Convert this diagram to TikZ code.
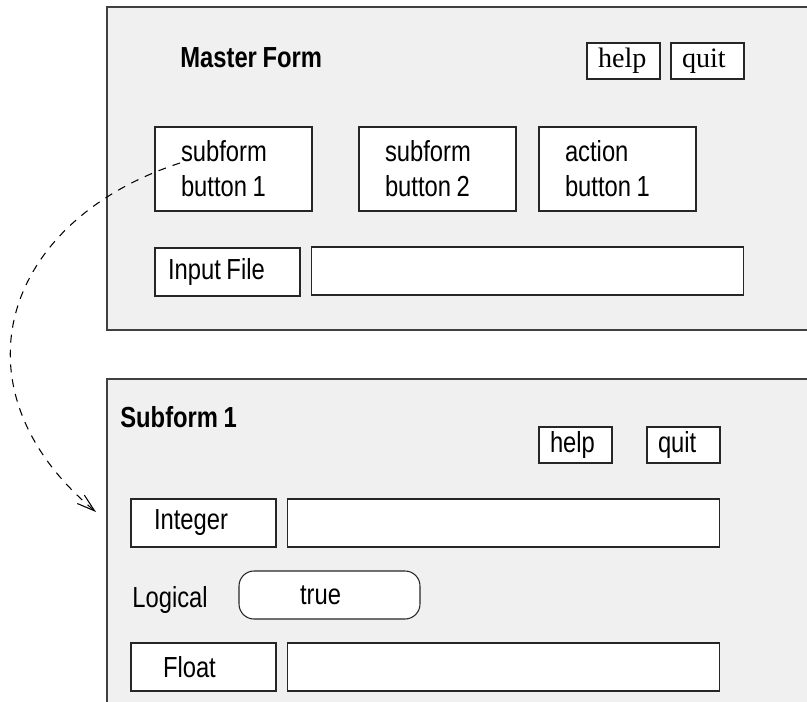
\documentclass[tikz,border=0pt]{standalone}
\usepackage{fontspec}
\setmainfont[FakeStretch=0.82,WordSpace=0.85]{Liberation Sans}
\newfontfamily\timesfont{Liberation Serif}
\usetikzlibrary{arrows.meta,positioning}

\begin{document}
\begin{tikzpicture}[x=0.02cm,y=-0.02cm,
  font=\fontsize{16.5}{20}\selectfont,
  panel/.style={draw=black!75,line width=0.8pt,fill=black!6},
  field/.style={draw=black!85,line width=0.6pt,fill=white,minimum height=0.96cm,inner ysep=0pt,align=left,
    execute at begin node={\spaceskip=0pt}},
  smallbtn/.style={field,minimum height=0.72cm,text width=1.02cm,inner xsep=0.22cm},
  formbtn/.style={field,minimum height=1.68cm,text width=2.1cm,inner xsep=0.52cm},
  entry/.style={field,minimum width=8.66cm,inner sep=0pt},
  title/.style={anchor=base west,inner sep=0pt,font=\fontsize{16.5}{20}\selectfont\bfseries},
  flow/.style={draw=black,line width=0.6pt,dash pattern=on 4.5pt off 4pt,-{Straight Barb[length=0.36cm,width=0.22cm]}}]
\useasboundingbox (0,0) rectangle (807,702);
\clip (0,0) rectangle (807,702);

% master form
\draw[panel] (107,7) rectangle (830,330);
\node[title] (mastertitle) at (180,68) {Master Form};
\node[smallbtn,font=\fontsize{16}{20}\timesfont] (mhelp) at (623.5,61) {help};
\node[smallbtn,font=\fontsize{16}{20}\timesfont] (mquit) at (707.5,61) {quit};
\node[formbtn] (sub1) at (233.5,169) {subform\\button 1};
\node[formbtn] (sub2) at (437.5,169) {subform\\button 2};
\node[formbtn] (act1) at (617.5,169) {action\\button 1};
\node[field,text width=2.38cm,inner xsep=0.26cm] (infile) at (227.5,272) {Input File};
\node[entry] (infileval) at (527.5,271) {};

% subform 1
\draw[panel] (107,379) rectangle (830,720);
\node[title] (subtitle) at (120,427) {Subform 1};
\node[smallbtn] (shelp) at (575.5,445) {help};
\node[smallbtn] (squit) at (683.5,445) {quit};
\node[field,text width=1.98cm,inner xsep=0.46cm] (intlbl) at (203.5,523) {Integer};
\node[entry] (intval) at (503.5,523) {};
\node[anchor=base west,inner sep=0pt] (loglbl) at (132,607) {Logical};
\node[field,rounded corners=0.3cm,text width=1.18cm,inner xsep=1.22cm] (logval) at (329.5,595) {true};
\node[field,text width=1.62cm,inner xsep=0.64cm] (fltlbl) at (203.5,667) {Float};
\node[entry] (fltval) at (503.5,667) {};

% link
\coordinate (linkstart) at (180,163);
\coordinate (linkend) at (96,512);
\draw[flow] (linkstart) .. controls (0,222) and (-50,390) .. (linkend);
\end{tikzpicture}
\end{document}
